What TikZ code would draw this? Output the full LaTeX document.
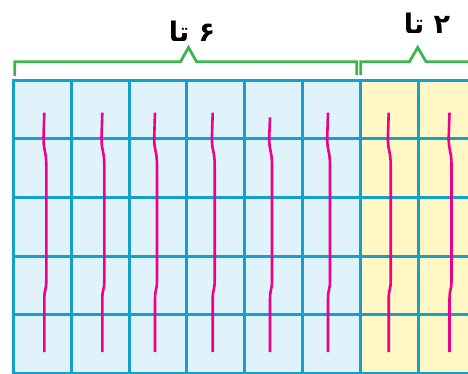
\documentclass[tikz,border=0pt]{standalone}
\usepackage{fontspec}
\newfontfamily\arabicfont[Script=Arabic]{DejaVu Sans}
\TeXXeTstate=1
\definecolor{gridblue}{HTML}{14A0C8}
\definecolor{cellblue}{HTML}{E0F2FA}
\definecolor{cellyellow}{HTML}{FFF8C5}
\definecolor{rulepink}{HTML}{EC008C}
\definecolor{bracegreen}{HTML}{3DB54A}
\begin{document}
\begin{tikzpicture}[x=1pt, y=-1pt,
    gridline/.style={gridblue, line width=3pt},
    wiggle/.style={rulepink, line width=2.6pt},
    brace/.style={bracegreen, line width=2.8pt, line join=miter},
    count/.style={font=\arabicfont\bfseries\fontsize{27}{30}\selectfont, inner sep=0pt}]
    \useasboundingbox (0,0) rectangle (468,374);
    \begin{scope}
        \clip (0,0) rectangle (468,374);
        \fill[cellblue] (13.5,80.3) rectangle (360.3,374);
        \fill[cellyellow] (360.3,80.3) rectangle (468,374);
        \foreach \c in {0,...,8} \draw[gridline] (13.5+57.8*\c,80.3) -- (13.5+57.8*\c,376);
        \foreach \r in {0,...,5} \draw[gridline] (12,80.3+58.6*\r) -- (476,80.3+58.6*\r);
    \end{scope}
    \foreach \a/\t in {44.3/112.7, 102.3/112.7, 155/112.7, 212.7/112.7, 270/117.3, 328/112.7, 388.7/112.7, 449.5/112.7}
        \draw[wiggle] (\a,\t) -- (\a-0.8,138) .. controls (\a-0.8,152) and (\a+2,150) .. (\a+2,166) -- (\a+2,280) .. controls (\a+2,292) and (\a,287) .. (\a,300) -- (\a,352);
    \draw[brace] (14.7,76) -- (14.7,61.7) -- (180.5,61.7) -- (188.5,47.5) -- (196.5,61.7) -- (356.7,61.7) -- (356.7,75);
    \draw[brace] (360.8,75) -- (360.8,61.7) -- (409.5,61.7) -- (417.7,47.5) -- (426,61.7) -- (470,61.7);
    \node[count] (six) at (192,31) {\beginR ۶ تا\endR};
    \node[count] (two) at (427,23) {\beginR ۲ تا\endR};
\end{tikzpicture}
\end{document}
